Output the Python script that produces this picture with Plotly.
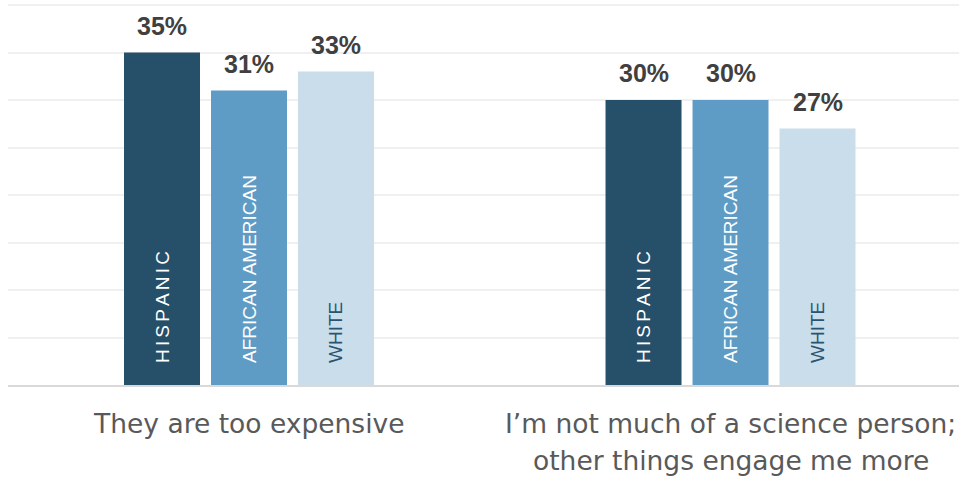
import plotly.graph_objects as go

# ---- data ----
categories = ["They are too expensive",
              "I’m not much of a science person; other things engage me more"]
category_lines = [["They are too expensive"],
                  ["I’m not much of a science person;", "other things engage me more"]]
series_names = ["HISPANIC", "AFRICAN AMERICAN", "WHITE"]
hispanic = [35, 30]
african_american = [31, 30]
white = [33, 27]
series_values = [hispanic, african_american, white]

# ---- style ----
bar_colors = ["#264F6A", "#5F9CC5", "#C9DDEB"]
label_colors = ["#FFFFFF", "#FFFFFF", "#2A5371"]
BARGAP = 0.458
GROUPGAP = 0.1265
EN = "\u2002"
SIX = "\u2006"


def inside_label(name):
    if name == "HISPANIC":
        name = SIX.join(list(name))
    return EN * 2 + name


x_idx = list(range(len(categories)))
fig = go.Figure()
for name, vals, col, tcol in zip(series_names, series_values, bar_colors, label_colors):
    fig.add_trace(go.Bar(
        x=x_idx, y=vals, name=name,
        marker=dict(color=col, line=dict(width=0)),
        text=[inside_label(name)] * len(vals),
        textposition="inside", insidetextanchor="start", textangle=-90,
        insidetextfont=dict(family="Liberation Sans, Arial, sans-serif", size=19, color=tcol),
        hoverinfo="skip",
    ))

# value labels above bars, placed from data
slot = (1 - BARGAP) / len(series_names)
annotations = []
for j, vals in enumerate(series_values):
    off = (j - (len(series_names) - 1) / 2) * slot
    for i, v in enumerate(vals):
        annotations.append(dict(
            x=i + off, y=v, xref="x", yref="y", text=f"<b>{v}%</b>",
            showarrow=False, yanchor="bottom", yshift=11,
            font=dict(family="Liberation Sans, Arial, sans-serif", size=25, color="#404040"),
        ))

# category labels (two-line with looser spacing)
for i, lines in enumerate(category_lines):
    for k, line in enumerate(lines):
        annotations.append(dict(
            x=i, y=0, xref="x", yref="paper", text=line, showarrow=False,
            yanchor="top", yshift=-21 - 37 * k,
            font=dict(family="DejaVu Sans, sans-serif", size=26.5, color="#595959"),
        ))

fig.update_layout(
    width=959, height=482,
    margin=dict(l=8, r=0, t=3, b=97),
    paper_bgcolor="white", plot_bgcolor="white",
    barmode="group", bargap=BARGAP, bargroupgap=GROUPGAP,
    showlegend=False,
    annotations=annotations,
    xaxis=dict(range=[-0.5005, 1.4745], showticklabels=False, ticks="",
               showgrid=False, zeroline=False, showline=True,
               linecolor="#D9D9D9", linewidth=2, fixedrange=True),
    yaxis=dict(range=[0, 40.21], dtick=5, showticklabels=False, ticks="",
               showgrid=True, gridcolor="#F0F0F0", gridwidth=2,
               zeroline=False, showline=False, fixedrange=True),
)

fig.write_html(
    "out.html",
    config={"displayModeBar": False},
    post_script="document.body.style.margin='0';document.body.style.overflow='hidden';",
)
